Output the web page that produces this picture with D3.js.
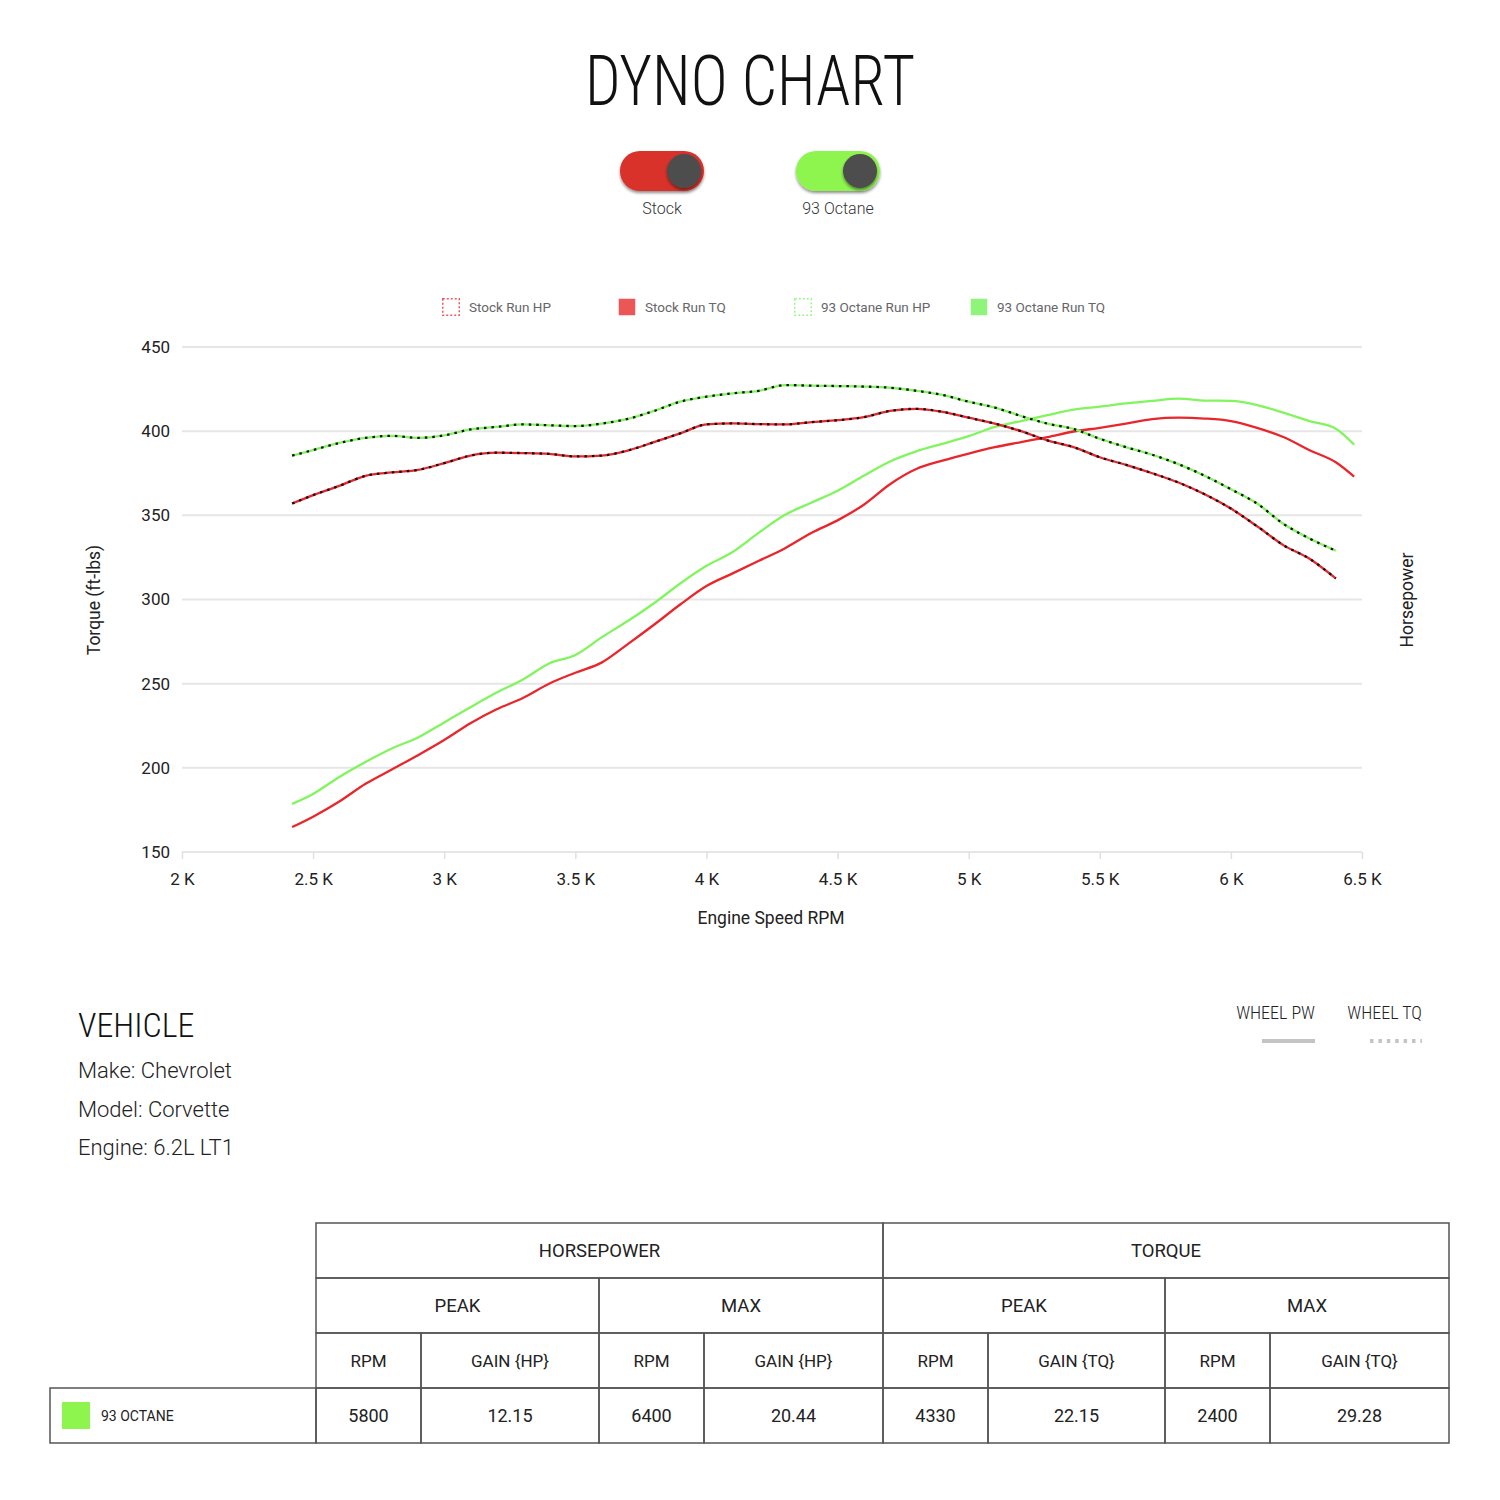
<!DOCTYPE html>
<html>
<head>
<meta charset="utf-8">
<script src="https://cdn.jsdelivr.net/npm/d3@7"></script>
<style>
  body { margin: 0; background: #fff; }
  svg text { font-family: Roboto, "Noto Sans", sans-serif; }
  .cond { font-family: "Roboto Condensed", "Liberation Sans Narrow", "DejaVu Sans Condensed", sans-serif; font-weight: 300; }
</style>
</head>
<body>
<svg id="chart"></svg>
<script>
// engine speed points (rpm)
const rpm = [2420, 2500, 2600, 2700, 2800, 2900, 3000, 3100, 3200, 3300, 3400,
             3500, 3600, 3700, 3800, 3900, 4000, 4100, 4200, 4300, 4400,
             4500, 4600, 4700, 4800, 4900, 5000, 5100, 5200, 5300, 5400,
             5500, 5600, 5700, 5800, 5900, 6000, 6100, 6200, 6300, 6400];
// solid curves run a little further
const rpmHp = rpm.concat([6470]);

const stockTq = [357, 362, 367.5, 373.5, 375.5, 377, 381, 385.5, 387.2, 387, 386.5,
                 385, 385.5, 388.5, 393.5, 398.7, 404, 404.6, 404.2, 404, 405.4,
                 406.5, 408.3, 412, 413.3, 411.5, 408, 404.5, 400, 394.5, 390.5,
                 384.5, 380, 375, 369.5, 362.5, 354, 343.5, 332.3, 324.2, 312.5];
const octaneTq = [385.5, 388.8, 393, 396, 397.2, 396, 397.5, 401, 402.5, 404, 403.5,
                  403, 404.5, 407.3, 412, 417.5, 420.5, 422.5, 424, 427.4, 427,
                  426.8, 426.5, 425.8, 424, 421.5, 417.5, 414, 409, 404.5, 401.3,
                  395.5, 390.5, 386, 380.4, 373.5, 365.5, 357, 345, 336.2, 329];
const stockHp = [164.8, 171, 180, 190.5, 199, 207.5, 216.5, 226.5, 234.8, 241.5, 250,
                 256.5, 262.5, 273.5, 285, 297, 308, 315.5, 323, 330.5, 339.5,
                 347, 356.3, 368.5, 377.5, 382.5, 386.7, 390.5, 393.5, 396.5, 399.8,
                 402, 404.5, 407.2, 408, 407.5, 406, 402, 396.5, 388.7, 381.5, 373];
const octaneHp = [178.6, 184.5, 194.6, 203.5, 211.5, 218, 227, 236, 244.7, 252.5, 262,
                  267, 277.5, 287.2, 297.8, 309.5, 320, 328.2, 339.7, 350.3, 357.5,
                  364.6, 373.5, 382, 388, 392.5, 397, 402.5, 406, 409.5, 412.8,
                  414.6, 416.5, 418, 419.3, 418.2, 418, 415.5, 411, 406, 401.5, 392];

const yTicks = [150, 200, 250, 300, 350, 400, 450];
const xTicks = [2000, 2500, 3000, 3500, 4000, 4500, 5000, 5500, 6000, 6500];

const runs = ["Stock", "93 Octane"];
const legendLabels = ["Stock Run HP", "Stock Run TQ", "93 Octane Run HP", "93 Octane Run TQ"];
const vehicle = ["Make: Chevrolet", "Model: Corvette", "Engine: 6.2L LT1"];

const groupHeads = ["HORSEPOWER", "TORQUE"];
const subHeads = ["PEAK", "MAX", "PEAK", "MAX"];
const colHeads = ["RPM", "GAIN {HP}", "RPM", "GAIN {HP}", "RPM", "GAIN {TQ}", "RPM", "GAIN {TQ}"];
const rowLabel = "93 OCTANE";
const rowValues = ["5800", "12.15", "6400", "20.44", "4330", "22.15", "2400", "29.28"];

const RED = "#e8262b", GREEN = "#80f55e";

const svg = d3.select("#chart").attr("width", 1500).attr("height", 1500);

const defs = svg.append("defs");
const sh = defs.append("filter").attr("id", "shadow").attr("x", "-30%").attr("y", "-30%")
               .attr("width", "160%").attr("height", "170%");
sh.append("feDropShadow").attr("dx", 0).attr("dy", 2).attr("stdDeviation", 1.5)
  .attr("flood-color", "#000").attr("flood-opacity", 0.45);

// title
svg.append("text").attr("class", "cond")
   .attr("x", 750).attr("y", 105).attr("text-anchor", "middle")
   .attr("textLength", 330).attr("lengthAdjust", "spacingAndGlyphs")
   .style("font-size", "70px").attr("fill", "#111")
   .text("DYNO CHART");

// toggles
const toggleColors = ["#d9302a", "#8ef54f"];
runs.forEach((name, i) => {
    const cx = 662 + i * 176;
    const g = svg.append("g");
    g.append("rect").attr("x", cx - 42).attr("y", 151).attr("width", 84).attr("height", 40)
     .attr("rx", 20).attr("fill", toggleColors[i]).attr("filter", "url(#shadow)");
    g.append("circle").attr("cx", cx + 22).attr("cy", 171).attr("r", 17)
     .attr("fill", "#4d4d4d").attr("filter", "url(#shadow)");
    g.append("text").attr("x", cx).attr("y", 214).attr("text-anchor", "middle")
     .style("font-size", "16px").style("font-weight", 300).attr("fill", "#333").text(name);
});

// legend
const legendColors = ["#ee5a5a", "#ec5656", "#9cf58a", "#8ef57a"];
legendLabels.forEach((lab, i) => {
    const lx = 442 + i * 176;
    const dotted = i % 2 === 0;
    svg.append("rect").attr("x", lx + 0.75).attr("y", 298.75).attr("width", 16.5).attr("height", 16.5)
       .attr("fill", dotted ? "none" : legendColors[i])
       .attr("stroke", dotted ? legendColors[i] : "none")
       .attr("stroke-width", 1.5).attr("stroke-dasharray", dotted ? "2,2" : null);
    svg.append("text").attr("x", lx + 27).attr("y", 312)
       .style("font-size", "13.5px").attr("fill", "#666").text(lab);
});

// plot
const x = d3.scaleLinear().domain([2000, 6500]).range([182, 1362]);
const y = d3.scaleLinear().domain([150, 450]).range([852, 347]);

svg.append("g").selectAll("line").data(yTicks).join("line")
   .attr("x1", x(2000)).attr("x2", x(6500))
   .attr("y1", d => y(d)).attr("y2", d => y(d))
   .attr("stroke", "#e6e6e6").attr("stroke-width", 2);

const yAxis = svg.append("g").attr("transform", `translate(${x(2000)},0)`)
   .call(d3.axisLeft(y).tickValues(yTicks).tickSize(0).tickPadding(12));
yAxis.select(".domain").remove();
yAxis.selectAll("text").style("font-size", "17px").attr("fill", "#222")
     .style("font-family", "Roboto, sans-serif");

const xAxis = svg.append("g").attr("transform", `translate(0,${y(150)})`)
   .call(d3.axisBottom(x).tickValues(xTicks).tickSize(7).tickPadding(14)
           .tickFormat(d => d3.format(".2~f")(d / 1000) + " K"));
xAxis.select(".domain").remove();
xAxis.selectAll("line").attr("stroke", "#e0e0e0").attr("stroke-width", 1.5);
xAxis.selectAll("text").style("font-size", "17px").attr("fill", "#222")
     .style("font-family", "Roboto, sans-serif");

svg.append("text").attr("transform", "translate(100,600) rotate(-90)")
   .attr("text-anchor", "middle").style("font-size", "17.5px").attr("fill", "#222")
   .text("Torque (ft-lbs)");
svg.append("text").attr("transform", "translate(1413,600) rotate(-90)")
   .attr("text-anchor", "middle").style("font-size", "17.5px").attr("fill", "#222")
   .text("Horsepower");
svg.append("text").attr("x", 771).attr("y", 924).attr("text-anchor", "middle")
   .style("font-size", "17.5px").attr("fill", "#222").text("Engine Speed RPM");

const line = d3.line().x(d => x(d[0])).y(d => y(d[1])).curve(d3.curveMonotoneX);

function drawSolid(xs, ys, color) {
    svg.append("path").datum(d3.zip(xs, ys)).attr("d", line)
       .attr("fill", "none").attr("stroke", color).attr("stroke-width", 2.3);
}
function drawDashed(xs, ys, color) {
    const pts = d3.zip(xs, ys);
    svg.append("path").datum(pts).attr("d", line)
       .attr("fill", "none").attr("stroke", color).attr("stroke-width", 2.3);
    svg.append("path").datum(pts).attr("d", line)
       .attr("fill", "none").attr("stroke", "#111").attr("stroke-width", 2.3)
       .attr("stroke-dasharray", "2.5,5");
}

drawSolid(rpmHp, octaneHp, GREEN);
drawSolid(rpmHp, stockHp, RED);
drawDashed(rpm, octaneTq, GREEN);
drawDashed(rpm, stockTq, RED);

// vehicle info
svg.append("text").attr("class", "cond").attr("x", 78).attr("y", 1037)
   .style("font-size", "34px").attr("fill", "#111").text("VEHICLE");
svg.append("g").selectAll("text").data(vehicle).join("text")
   .attr("x", 78).attr("y", (d, i) => 1078 + i * 38.5)
   .style("font-size", "22px").style("font-weight", 300).attr("fill", "#222")
   .text(d => d);

// wheel legend
svg.append("text").attr("class", "cond").attr("x", 1315).attr("y", 1019).attr("text-anchor", "end")
   .style("font-size", "18px").attr("fill", "#222").text("WHEEL PW");
svg.append("line").attr("x1", 1262).attr("x2", 1315).attr("y1", 1041).attr("y2", 1041)
   .attr("stroke", "#c4c4c4").attr("stroke-width", 4);
svg.append("text").attr("class", "cond").attr("x", 1422).attr("y", 1019).attr("text-anchor", "end")
   .style("font-size", "18px").attr("fill", "#222").text("WHEEL TQ");
svg.append("line").attr("x1", 1370).attr("x2", 1422).attr("y1", 1041).attr("y2", 1041)
   .attr("stroke", "#c4c4c4").attr("stroke-width", 4)
   .attr("stroke-dasharray", "3.5,4.9");

// table
const colX = [316, 421, 599, 704, 883, 988, 1165, 1270, 1449];
const rowY = [1223, 1278, 1333, 1388, 1443];
const tbl = svg.append("g");
const border = "#555";

function cell(x0, x1, y0, y1, txt, size) {
    tbl.append("rect").attr("x", x0).attr("y", y0).attr("width", x1 - x0).attr("height", y1 - y0)
       .attr("fill", "none").attr("stroke", border).attr("stroke-width", 1.5);
    if (txt !== null) {
        tbl.append("text").attr("x", (x0 + x1) / 2).attr("y", (y0 + y1) / 2 + 6)
           .attr("text-anchor", "middle").style("font-size", size || "17px")
           .attr("fill", "#222").text(txt);
    }
}
groupHeads.forEach((h, i) => cell(colX[i * 4], colX[i * 4 + 4], rowY[0], rowY[1], h, "18.5px"));
subHeads.forEach((h, i) => cell(colX[i * 2], colX[i * 2 + 2], rowY[1], rowY[2], h, "18.5px"));
colHeads.forEach((h, i) => cell(colX[i], colX[i + 1], rowY[2], rowY[3], h));
rowValues.forEach((v, i) => cell(colX[i], colX[i + 1], rowY[3], rowY[4], v, "18px"));
cell(50, colX[0], rowY[3], rowY[4], null);
tbl.append("rect").attr("x", 62).attr("y", 1402).attr("width", 28).attr("height", 27).attr("fill", "#8ef54f");
tbl.append("text").attr("x", 101).attr("y", 1421).style("font-size", "14px").attr("fill", "#222").text(rowLabel);
</script>
</body>
</html>
